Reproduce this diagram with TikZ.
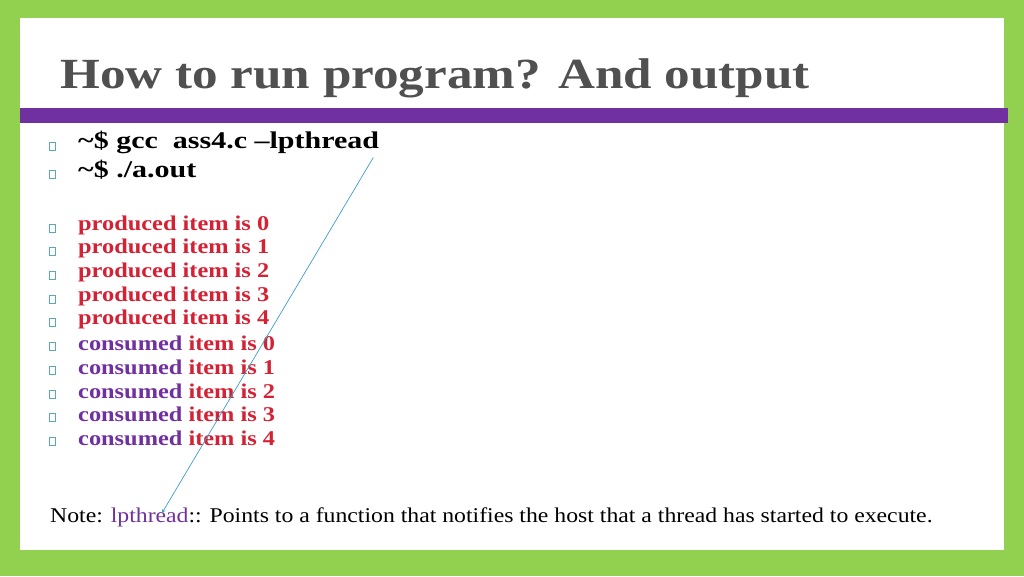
\documentclass[tikz,border=0pt]{standalone}
\usepackage{fontspec}
\setmainfont{Liberation Serif}
\definecolor{slidegreen}{RGB}{146,208,80}
\definecolor{bandpurple}{RGB}{112,48,160}
\definecolor{itemred}{RGB}{212,33,52}
\definecolor{titlegray}{RGB}{80,80,80}
\definecolor{bulletteal}{RGB}{90,170,180}
\definecolor{arrowblue}{RGB}{60,160,200}
\newcommand{\wide}[2]{\scalebox{#1}[1]{#2}}
\tikzset{
    line/.style={anchor=west, inner sep=0pt, font=\fontsize{24}{24}\selectfont\bfseries},
    item/.style={anchor=west, inner sep=0pt, font=\fontsize{21}{21}\selectfont\bfseries, text=itemred},
    bulletbox/.style={draw=bulletteal, line width=0.7pt, minimum width=6pt, minimum height=8pt, inner sep=0pt}
}
\begin{document}
\begin{tikzpicture}[x=1pt,y=-1pt]
    \useasboundingbox (0,0) rectangle (1024,576);
    % background and band
    \fill[slidegreen] (0,0) rectangle (1024,576);
    \fill[white] (20,18) rectangle (1004,550);
    \fill[bandpurple] (20,108) rectangle (1008,123);
    \node[anchor=base west, inner sep=0pt, text=titlegray, font=\fontsize{43}{43}\selectfont\bfseries] (title) at (60,88) {\wide{1.19}{How to run program? And output}};

    % commands
    \node[line] (cmdA) at (78,142) {\wide{1.25}{\textasciitilde\$ gcc\ \ ass4.c --lpthread}};
    \node[line] (cmdB) at (78,170) {\wide{1.25}{\textasciitilde\$ ./a.out}};
    \node[bulletbox] at (52,146) {};
    \node[bulletbox] at (52,174) {};

    % output lines
    \foreach \i in {0,...,4} {
        \node[item] (prod\i) at (78,{225+23.7*\i}) {\wide{1.16}{produced item is \i}};
        \node[bulletbox] at (52,{228+23.7*\i}) {};
        \node[item] (cons\i) at (78,{343.5+23.7*\i}) {\wide{1.16}{\textcolor{bandpurple}{consumed} item is \i}};
        \node[bulletbox] at (52,{346.5+23.7*\i}) {};
    }

    % note
    \node[anchor=base west, inner sep=0pt, font=\fontsize{21}{21}\selectfont] (note) at (50,522)
        {\wide{1.13}{Note: \textcolor{bandpurple}{lpthread}:: Points to a function that notifies the host that a thread has started to execute.}};
    \coordinate (tip) at (162,513);
    \draw[arrowblue, line width=0.7pt, -stealth] (cmdA.south east) ++(-6,4) -- (tip);
\end{tikzpicture}
\end{document}
